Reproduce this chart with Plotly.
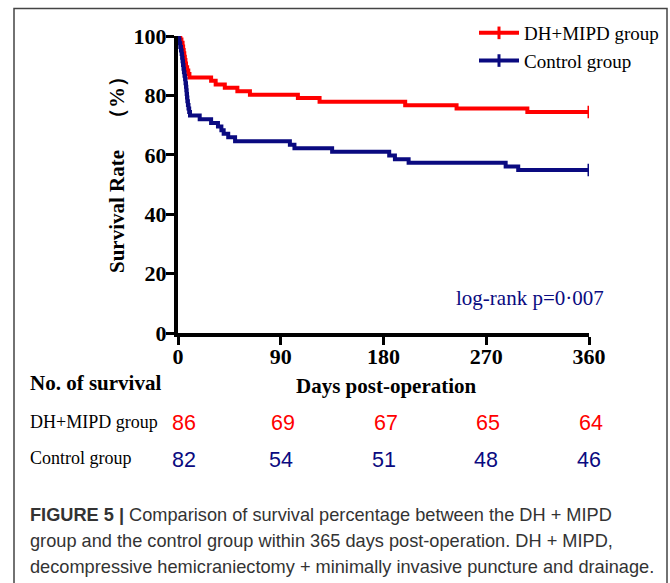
import plotly.graph_objects as go

# ---------------- data ----------------
red_name = "DH+MIPD group"
blue_name = "Control group"

red_days = [0, 2, 3, 4, 4.5, 5, 5.5, 6, 6.5, 7, 8, 9, 10, 29, 33, 41, 52, 63,
            105, 124, 199, 244, 306, 360]
red_surv = [100, 98.8, 97.7, 96.5, 95.3, 94.2, 93.0, 91.9, 90.7, 89.5, 88.4, 87.2,
            86.0, 84.9, 83.7, 82.6, 81.4, 80.2, 79.1, 77.9, 76.7, 75.6, 74.4, 74.4]

blue_days = [0, 0.7, 1.3, 2, 2.6, 3.2, 3.6, 4, 4.4, 4.8, 5.2, 5.7, 6.2, 6.6, 7.0,
             7.3, 7.6, 7.9, 8.2, 8.7, 9.2, 9.8, 10.5, 19, 29, 35, 38, 40, 44, 50,
             98, 102, 135, 185, 190, 202, 287, 298, 360]
blue_surv = [100, 98.8, 97.6, 96.3, 95.1, 93.9, 92.7, 91.5, 90.2, 89.0, 87.8, 86.6,
             85.4, 84.1, 82.9, 81.7, 80.5, 79.3, 78.0, 76.8, 75.6, 74.4, 73.2, 72.0,
             70.7, 69.5, 68.3, 67.1, 65.9, 64.6, 63.4, 62.2, 61.0, 59.8, 58.5, 57.3,
             56.1, 54.9, 54.9]

x_ticks = [0, 90, 180, 270, 360]
y_ticks = [0, 20, 40, 60, 80, 100]

risk_days = [0, 90, 180, 270, 360]
red_risk = [86, 69, 67, 65, 64]
blue_risk = [82, 54, 51, 48, 46]

RED = "#ff0000"
BLUE = "#0a0a80"

# ---------------- layout geometry ----------------
W, H = 670, 583
L, R, T, B = 178, 589, 36, 333   # plot area in pixels


def px(x):
    return (x - L) / (R - L)


def py(y):
    return (B - y) / (B - T)


SERIF = "Liberation Serif"
SANS = "Liberation Sans"

fig = go.Figure()

for days, surv, col, name in [(red_days, red_surv, RED, red_name),
                              (blue_days, blue_surv, BLUE, blue_name)]:
    fig.add_trace(go.Scatter(x=days, y=surv, mode="lines",
                             line=dict(color=col, width=4, shape="hv"),
                             showlegend=False, hoverinfo="skip"))
    # censor tick at end of follow-up
    fig.add_trace(go.Scatter(x=[days[-1]], y=[surv[-1]], mode="markers",
                             marker=dict(symbol="line-ns-open", size=9, color=col,
                                         line=dict(color=col, width=3)),
                             showlegend=False, hoverinfo="skip"))
    # legend entry
    fig.add_trace(go.Scatter(x=[None], y=[None], mode="lines+markers", name=name,
                             line=dict(color=col, width=4),
                             marker=dict(symbol="line-ns-open", size=9, color=col,
                                         line=dict(color=col, width=3))))

axis_common = dict(showline=True, linecolor="black", linewidth=4, ticks="outside",
                   ticklen=8, tickwidth=3, tickcolor="black", showgrid=False,
                   zeroline=False, mirror=False,
                   tickfont=dict(family=SERIF, size=22, color="black", weight="bold"))

fig.update_xaxes(range=[0, 360], tickvals=x_ticks, ticklabelstandoff=-7, **axis_common)
fig.update_yaxes(range=[0, 100], tickvals=y_ticks, ticklabelstandoff=-5, **axis_common)


def txt(x, y, text, size, color="black", family=SERIF, bold=False,
        xanchor="center", xref="paper", angle=0, xshift=0):
    return dict(x=x, y=y, xref=xref, yref="paper", text=text, showarrow=False,
                xanchor=xanchor, yanchor="middle", textangle=angle, xshift=xshift,
                font=dict(family=family, size=size, color=color,
                          weight="bold" if bold else "normal"))


ann = []
ann.append(txt(px(117), py(170), "Survival Rate　（%）", 21, bold=True, angle=-90))
ann.append(txt(px(386), py(386), "Days post-operation", 21, bold=True))
ann.append(txt(px(28), py(383), "No. of survival", 21, bold=True, xanchor="left"))
ann.append(txt(px(28), py(422), red_name, 18, xanchor="left"))
ann.append(txt(px(28), py(458), blue_name, 18, xanchor="left"))
for d, n in zip(risk_days, red_risk):
    ann.append(txt(d, py(423), str(n), 21.5, color=RED, family=SANS, xref="x",
                   xshift=6 if d == 0 else 2))
for d, n in zip(risk_days, blue_risk):
    ann.append(txt(d, py(460), str(n), 21.5, color=BLUE, family=SANS, xref="x",
                   xshift=6 if d == 0 else 0))
ann.append(txt(px(530), py(298), "log-rank p=0·007", 21, color=BLUE))

cap = ["<b>FIGURE 5 |</b> Comparison of survival percentage between the DH + MIPD",
       "group and the control group within 365 days post-operation. DH + MIPD,",
       "decompressive hemicraniectomy + minimally invasive puncture and drainage."]
for i, line in enumerate(cap):
    ann.append(txt(px(28), py(515 + 26 * i), line, 18.2, color="#333333",
                   family=SANS, xanchor="left"))

shapes = [dict(type="rect", xref="paper", yref="paper",
               x0=px(14), x1=px(667), y0=py(590), y1=py(8.5),
               line=dict(color="#444444", width=1.5))]

fig.update_layout(
    width=W, height=H,
    margin=dict(l=L, r=W - R, t=T, b=H - B, autoexpand=False),
    plot_bgcolor="white", paper_bgcolor="white",
    annotations=ann, shapes=shapes,
    legend=dict(x=px(474), y=py(14), xanchor="left", yanchor="top",
                font=dict(family=SERIF, size=19, color="black"),
                bgcolor="rgba(0,0,0,0)", itemwidth=40, tracegroupgap=0),
)

fig.write_html("out.html")
